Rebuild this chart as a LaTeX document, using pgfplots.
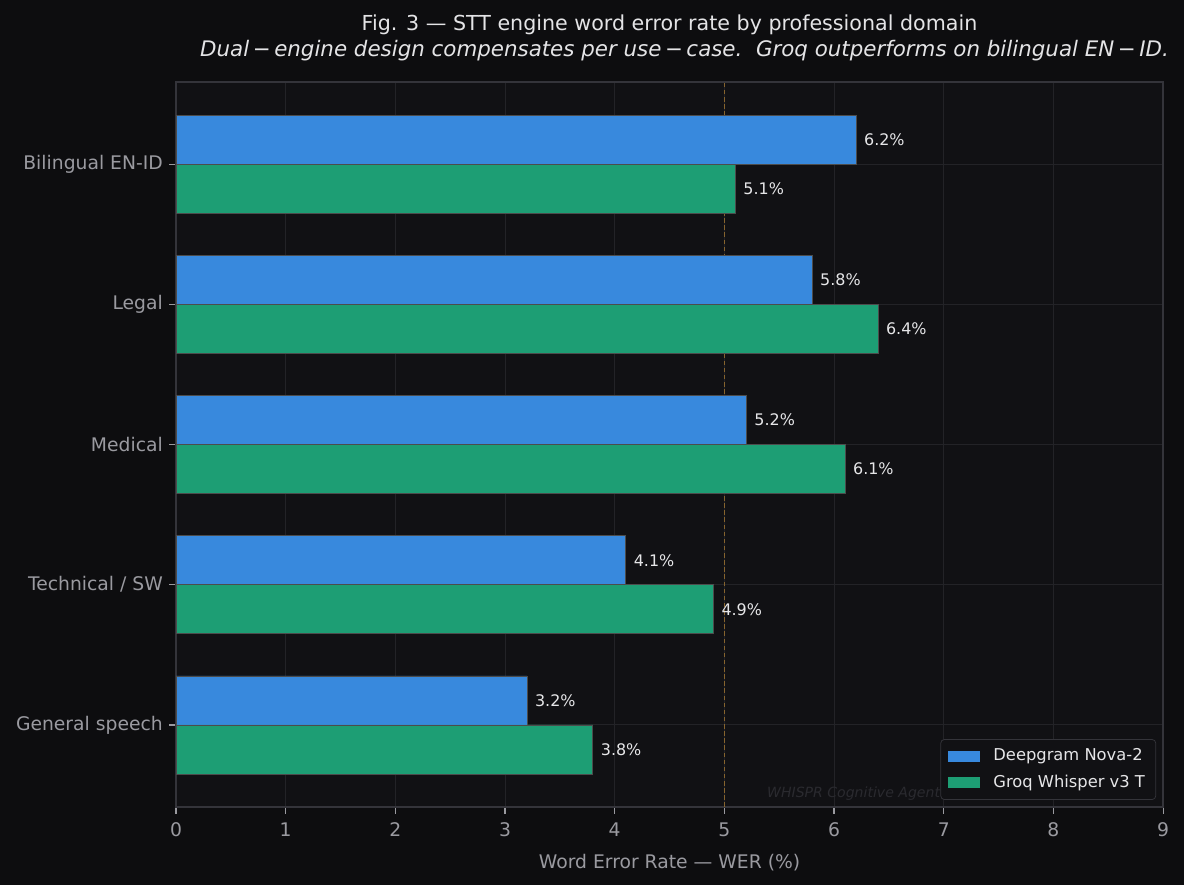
\documentclass[border=0pt]{standalone}
\usepackage{pgfplots}
\pgfplotsset{compat=1.18}
\usepackage{fontspec}
\setmainfont{DejaVu Sans}
\definecolor{figbg}{HTML}{0D0D0F}
\definecolor{axbg}{HTML}{111114}
\definecolor{gridc}{HTML}{232327}
\definecolor{spinec}{HTML}{34343A}
\definecolor{tickc}{HTML}{9A9AA0}
\definecolor{titlec}{HTML}{E4E4E6}
\definecolor{labc}{HTML}{E6E6E8}
\definecolor{bluec}{HTML}{3889DD}
\definecolor{greenc}{HTML}{1D9E74}
\definecolor{dashc}{HTML}{86642E}
\definecolor{wmc}{HTML}{2A2A2F}
\pgfplotstableread{
y dg gq
0 3.2 3.8
1 4.1 4.9
2 5.2 6.1
3 5.8 6.4
4 6.2 5.1
}\wer
\begin{document}
\begin{tikzpicture}[x=0.5333pt,y=0.5333pt]
\fill[figbg,use as bounding box] (0,0) rectangle (1184,885);
\node[anchor=base,text=titlec,font=\fontsize{11}{13}\selectfont,inner sep=0pt] at (669.5,854) {Fig. 3 — STT engine word error rate by professional domain};
\node[anchor=base,text=titlec,font=\fontsize{11.4}{13}\selectfont\itshape,inner sep=0pt] at (684.5,828) {Dual\,−\,engine design compensates per use\,−\,case.\ \ Groq outperforms on bilingual EN\,−\,ID.};
\begin{axis}[
  at={(93.86pt,41.60pt)}, anchor=south west,
  width=526.4pt, height=386.6pt, scale only axis,
  xmin=0, xmax=9, ymin=-0.585, ymax=4.585,
  xtick={0,1,...,9}, ytick={0,1,2,3,4},
  yticklabels={General speech, Technical / SW, Medical, Legal, Bilingual EN-ID},
  xtick pos=bottom, ytick pos=left,
  tick align=outside, major tick length=3.5pt,
  tick style={color=tickc, line width=0.6pt},
  grid=major, major grid style={color=gridc, line width=0.5pt},
  axis line style={color=spinec, line width=0.8pt},
  axis background/.style={fill=axbg},
  tick label style={font=\fontsize{10}{12}\selectfont, text=tickc},
  xticklabel style={yshift=-1.5pt},
  /pgf/number format/assume math mode=true,
  xlabel={Word Error Rate — WER (\%)},
  xlabel style={font=\fontsize{10}{12}\selectfont, text=tickc, yshift=-2pt},
  bar width=0.35,
  legend cell align=left,
  legend style={at={(0.993,0.0097)}, anchor=south east, fill=axbg, draw=spinec,
    rounded corners=2pt, text=labc, font=\fontsize{8.7}{11}\selectfont,
    row sep=2pt, inner xsep=3.8pt, inner ysep=3pt,
    /tikz/every odd column/.append style={column sep=5.3pt}},
  legend image code/.code={\fill[#1,draw=none,sharp corners] (0pt,-3pt) rectangle (17pt,3pt);},
  nodes near coords={\pgfmathprintnumber[fixed,fixed zerofill,precision=1]{\pgfplotspointmeta}\%},
  every node near coord/.append style={anchor=west, xshift=0.8pt, text=labc, font=\fontsize{8.5}{10}\selectfont},
  clip=false,
]
\draw[dashc, line width=0.8pt, dash pattern=on 2.4pt off 1.4pt] (axis cs:5,-0.585) -- (axis cs:5,4.585);
\node[anchor=east, text=wmc, font=\fontsize{7.5}{9}\selectfont\itshape, inner sep=0pt] at (axis cs:6.97,-0.49) {WHISPR Cognitive Agent};
\addplot[xbar, bar shift=0.175, fill=bluec, draw=black!70, line width=0.4pt, point meta=x,
  every node near coord/.append style={shift={(axis direction cs:0,0.175)}}] table[x=dg, y=y] {\wer};
\addlegendentry{Deepgram Nova-2}
\addplot[xbar, bar shift=-0.175, fill=greenc, draw=black!70, line width=0.4pt, point meta=x,
  every node near coord/.append style={shift={(axis direction cs:0,-0.175)}}] table[x=gq, y=y] {\wer};
\addlegendentry{Groq Whisper v3 T}
\end{axis}
\end{tikzpicture}
\end{document}
